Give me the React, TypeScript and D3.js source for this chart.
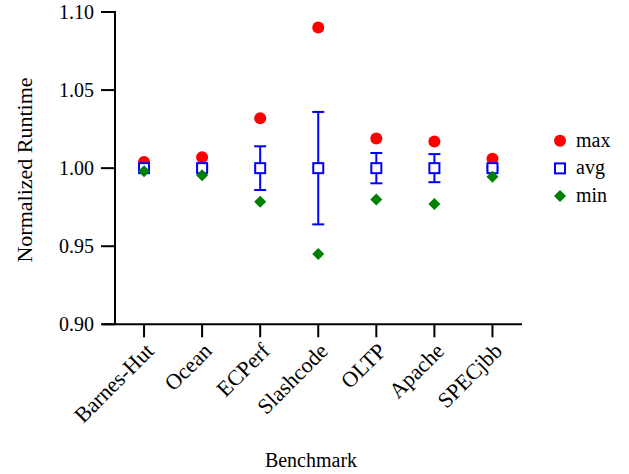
import React from "react";
import * as d3 from "d3";

const categories = ["Barnes-Hut", "Ocean", "ECPerf", "Slashcode", "OLTP", "Apache", "SPECjbb"];
const maxValues = [1.004, 1.007, 1.032, 1.090, 1.019, 1.017, 1.006];
const avgValues = [1.0, 1.0, 1.0, 1.0, 1.0, 1.0, 1.0];
const errValues = [0.001, 0.001, 0.014, 0.036, 0.0097, 0.009, 0.001];
const minValues = [0.998, 0.9955, 0.9785, 0.945, 0.980, 0.977, 0.9945];
const yTicks = [0.9, 0.95, 1.0, 1.05, 1.1];
const legendItems = ["max", "avg", "min"];

const W = 629;
const H = 474;
const FONT = "'Liberation Serif', 'Times New Roman', serif";
const RED = "#ff0000";
const BLUE = "#0000ff";
const GREEN = "#008000";

export default function App() {
  const y = d3.scaleLinear().domain([0.9, 1.1]).range([324.3, 12]);
  const x = d3.scaleBand<string>().domain(categories).range([115, 521.5]).padding(0);
  const cx = (c: string) => (x(c) as number) + x.bandwidth() / 2;
  const diamond = (px: number, py: number, s: number) =>
    `M${px},${py - s}L${px + s},${py}L${px},${py + s}L${px - s},${py}Z`;

  const axisY = 324.3;
  const axisX = 115;

  return (
    <svg width={W} height={H} style={{ position: "absolute", left: 0, top: 0 }} fontFamily={FONT}>
      <rect width={W} height={H} fill="#fff" />
      {/* axes */}
      <line x1={axisX} x2={axisX} y1={y(1.1) - 1} y2={axisY} stroke="#000" strokeWidth={2} />
      <line x1={102} x2={522} y1={axisY} y2={axisY} stroke="#000" strokeWidth={2} />
      {yTicks.map((t) => (
        <g key={t}>
          <line x1={101} x2={axisX} y1={y(t)} y2={y(t)} stroke="#000" strokeWidth={2} />
          <text x={94} y={y(t)} dy="0.33em" textAnchor="end" fontSize={20} fill="#000">
            {t.toFixed(2)}
          </text>
        </g>
      ))}
      {categories.map((c) => (
        <g key={c}>
          <line x1={cx(c)} x2={cx(c)} y1={axisY} y2={axisY + 13} stroke="#000" strokeWidth={2} />
          <text
            transform={`translate(${cx(c) + 11},${axisY + 28}) rotate(-45)`}
            textAnchor="end"
            fontSize={22}
            fill="#000"
          >
            {c}
          </text>
        </g>
      ))}
      <text
        transform={`translate(32,${170}) rotate(-90)`}
        textAnchor="middle"
        fontSize={22}
        fill="#000"
      >
        Normalized Runtime
      </text>
      <text x={311} y={467} textAnchor="middle" fontSize={20} fill="#000">
        Benchmark
      </text>

      {/* max */}
      {categories.map((c, i) => (
        <circle key={"max" + c} cx={cx(c)} cy={y(maxValues[i])} r={6} fill={RED} />
      ))}
      {/* error bars */}
      {categories.map((c, i) => {
        const top = y(avgValues[i] + errValues[i]);
        const bot = y(avgValues[i] - errValues[i]);
        const px = cx(c);
        return (
          <g key={"err" + c} stroke={BLUE} strokeWidth={2}>
            <line x1={px} x2={px} y1={top} y2={bot} />
            <line x1={px - 6} x2={px + 6} y1={top} y2={top} />
            <line x1={px - 6} x2={px + 6} y1={bot} y2={bot} />
          </g>
        );
      })}
      {/* avg */}
      {categories.map((c, i) => (
        <rect
          key={"avg" + c}
          x={cx(c) - 5}
          y={y(avgValues[i]) - 5}
          width={10}
          height={10}
          fill="#fff"
          stroke={BLUE}
          strokeWidth={2}
        />
      ))}
      {/* min */}
      {categories.map((c, i) => (
        <path key={"min" + c} d={diamond(cx(c), y(minValues[i]), 6)} fill={GREEN} />
      ))}

      {/* legend */}
      {legendItems.map((name, i) => {
        const ly = 140.7 + i * 27.7;
        const lx = 560;
        return (
          <g key={name}>
            {name === "max" && <circle cx={lx} cy={ly} r={6} fill={RED} />}
            {name === "avg" && (
              <rect x={lx - 5} y={ly - 5} width={10} height={10} fill="#fff" stroke={BLUE} strokeWidth={2} />
            )}
            {name === "min" && <path d={diamond(lx, ly, 6)} fill={GREEN} />}
            <text x={576} y={ly} dy="0.3em" fontSize={20} fill="#000">
              {name}
            </text>
          </g>
        );
      })}
    </svg>
  );
}
